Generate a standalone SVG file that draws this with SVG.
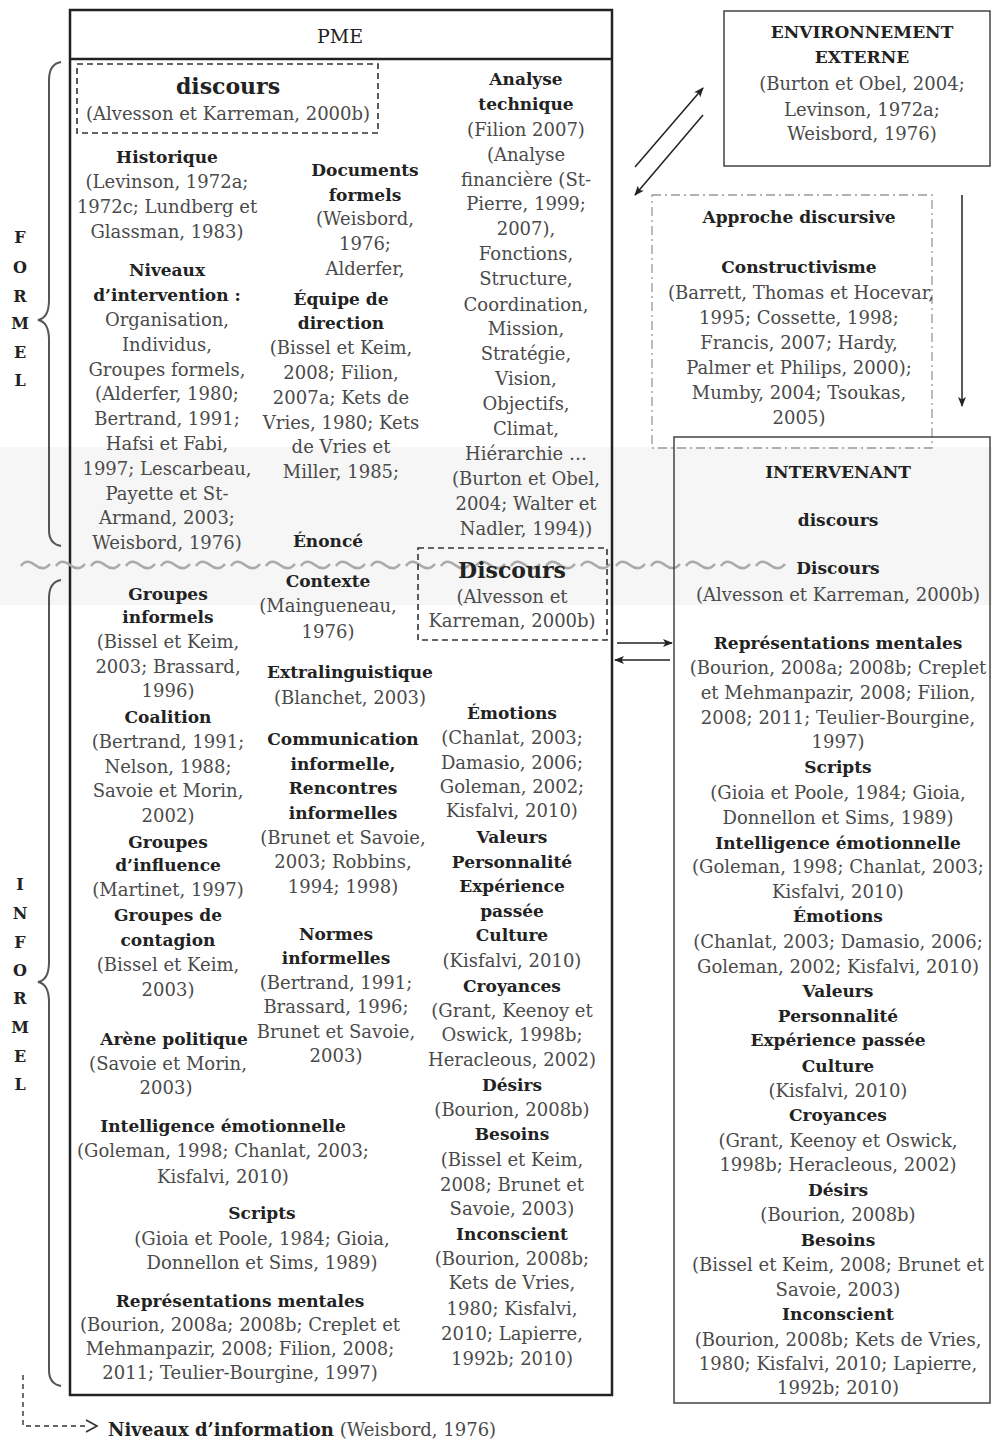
<svg xmlns="http://www.w3.org/2000/svg" width="992" height="1439" viewBox="0 0 992 1439">
  <style>
    text { font-family: "DejaVu Serif", "Liberation Serif", serif; text-anchor: middle; }
    .t { font-size: 18px; fill: #4a4a4a; }
    .h { font-size: 17px; font-weight: bold; fill: #222; }
    .big { font-size: 22px; font-weight: bold; fill: #222; }
    .side { font-size: 16px; font-weight: bold; fill: #222; }
    .frame { fill: none; stroke: #222; stroke-width: 2.5; }
    .box { fill: none; stroke: #444; stroke-width: 1.5; }
    .dash { fill: none; stroke: #333; stroke-width: 1.6; stroke-dasharray: 6 4; }
    .dashdot { fill: none; stroke: #999; stroke-width: 1.3; stroke-dasharray: 9 4 2 4; }
    .brace { fill: none; stroke: #555; stroke-width: 2; }
    .arrow { fill: none; stroke: #222; stroke-width: 1.5; }
  </style>
  <defs>
    <marker id="head" viewBox="0 0 10 8" refX="9" refY="4" markerWidth="10" markerHeight="8" markerUnits="userSpaceOnUse" orient="auto">
      <path d="M0,0 L10,4 L0,8 L2.5,4 z" fill="#222"/>
    </marker>
    <pattern id="wave" x="18" y="559" width="35" height="12" patternUnits="userSpaceOnUse">
      <path d="M3,7 C7,1 12,2 17,6 C22,10 27,11 32,5" fill="none" stroke="#aaa" stroke-width="2.6"/>
    </pattern>
  </defs>

  <!-- faint scan band behind the boundary line -->
  <rect x="0" y="447" width="992" height="158" fill="#f6f6f6"/>

  <!-- PME frame -->
  <g id="pme">
    <rect x="70" y="10" width="542" height="1385" class="frame"/>
    <line x1="70" y1="59" x2="612" y2="59" stroke="#222" stroke-width="2.5"/>
    <text x="340" y="43" style="font-size:19px; fill:#222">PME</text>
  </g>

  <!-- boundary between formal and informal -->
  <rect x="18" y="559" width="770" height="12" fill="url(#wave)"/>

  <!-- formal side of the PME -->
  <g id="pme-discours">
    <rect x="77" y="64" width="301" height="69" class="dash"/>
    <text class="big" x="228" y="94">discours</text>
    <text class="t" x="228" y="120">(Alvesson et Karreman, 2000b)</text>
  </g>

  <g id="historique">
    <text class="h" x="167" y="163">Historique</text>
    <text class="t" x="167" y="188">(Levinson, 1972a;</text>
    <text class="t" x="167" y="213">1972c; Lundberg et</text>
    <text class="t" x="167" y="238">Glassman, 1983)</text>
  </g>

  <g id="niveaux">
    <text class="h" x="167" y="276">Niveaux</text>
    <text class="h" x="167" y="301">d’intervention :</text>
    <text class="t" x="167" y="326">Organisation,</text>
    <text class="t" x="167" y="351">Individus,</text>
    <text class="t" x="167" y="376">Groupes formels,</text>
    <text class="t" x="167" y="400">(Alderfer, 1980;</text>
    <text class="t" x="167" y="425">Bertrand, 1991;</text>
    <text class="t" x="167" y="450">Hafsi et Fabi,</text>
    <text class="t" x="167" y="475">1997; Lescarbeau,</text>
    <text class="t" x="167" y="500">Payette et St-</text>
    <text class="t" x="167" y="524">Armand, 2003;</text>
    <text class="t" x="167" y="549">Weisbord, 1976)</text>
  </g>

  <g id="documents">
    <text class="h" x="365" y="176">Documents</text>
    <text class="h" x="365" y="201">formels</text>
    <text class="t" x="365" y="225">(Weisbord,</text>
    <text class="t" x="365" y="250">1976;</text>
    <text class="t" x="365" y="275">Alderfer,</text>
  </g>

  <g id="equipe">
    <text class="h" x="341" y="305">Équipe de</text>
    <text class="h" x="341" y="329">direction</text>
    <text class="t" x="341" y="354">(Bissel et Keim,</text>
    <text class="t" x="341" y="379">2008; Filion,</text>
    <text class="t" x="341" y="404">2007a; Kets de</text>
    <text class="t" x="341" y="429">Vries, 1980; Kets</text>
    <text class="t" x="341" y="453">de Vries et</text>
    <text class="t" x="341" y="478">Miller, 1985;</text>
  </g>

  <g id="enonce">
    <text class="h" x="328" y="547">Énoncé</text>
  </g>

  <g id="analyse">
    <text class="h" x="526" y="85">Analyse</text>
    <text class="h" x="526" y="110">technique</text>
    <text class="t" x="526" y="136">(Filion 2007)</text>
    <text class="t" x="526" y="161">(Analyse</text>
    <text class="t" x="526" y="186">financière (St-</text>
    <text class="t" x="526" y="210">Pierre, 1999;</text>
    <text class="t" x="526" y="235">2007),</text>
    <text class="t" x="526" y="260">Fonctions,</text>
    <text class="t" x="526" y="285">Structure,</text>
    <text class="t" x="526" y="311">Coordination,</text>
    <text class="t" x="526" y="335">Mission,</text>
    <text class="t" x="526" y="360">Stratégie,</text>
    <text class="t" x="526" y="385">Vision,</text>
    <text class="t" x="526" y="410">Objectifs,</text>
    <text class="t" x="526" y="435">Climat,</text>
    <text class="t" x="526" y="460">Hiérarchie …</text>
    <text class="t" x="526" y="485">(Burton et Obel,</text>
    <text class="t" x="526" y="510">2004; Walter et</text>
    <text class="t" x="526" y="535">Nadler, 1994))</text>
  </g>

  <!-- informal side of the PME -->
  <g id="pme-discours-informel">
    <rect x="418" y="548" width="189" height="92" class="dash"/>
    <text class="big" x="512" y="578">Discours</text>
    <text class="t" x="512" y="603">(Alvesson et</text>
    <text class="t" x="512" y="627">Karreman, 2000b)</text>
  </g>

  <g id="groupes-informels">
    <text class="h" x="168" y="600">Groupes</text>
    <text class="h" x="168" y="623">informels</text>
    <text class="t" x="168" y="648">(Bissel et Keim,</text>
    <text class="t" x="168" y="673">2003; Brassard,</text>
    <text class="t" x="168" y="697">1996)</text>
  </g>

  <g id="coalition">
    <text class="h" x="168" y="723">Coalition</text>
    <text class="t" x="168" y="748">(Bertrand, 1991;</text>
    <text class="t" x="168" y="773">Nelson, 1988;</text>
    <text class="t" x="168" y="797">Savoie et Morin,</text>
    <text class="t" x="168" y="822">2002)</text>
  </g>

  <g id="groupes-influence">
    <text class="h" x="168" y="848">Groupes</text>
    <text class="h" x="168" y="871">d’influence</text>
    <text class="t" x="168" y="896">(Martinet, 1997)</text>
  </g>

  <g id="groupes-contagion">
    <text class="h" x="168" y="921">Groupes de</text>
    <text class="h" x="168" y="946">contagion</text>
    <text class="t" x="168" y="971">(Bissel et Keim,</text>
    <text class="t" x="168" y="996">2003)</text>
  </g>

  <g id="arene">
    <text class="h" x="174" y="1045">Arène politique</text>
    <text class="t" x="168" y="1070">(Savoie et Morin,</text>
    <text class="t" x="166" y="1094">2003)</text>
  </g>

  <g id="intelligence">
    <text class="h" x="223" y="1132">Intelligence émotionnelle</text>
    <text class="t" x="223" y="1157">(Goleman, 1998; Chanlat, 2003;</text>
    <text class="t" x="223" y="1183">Kisfalvi, 2010)</text>
  </g>

  <g id="scripts">
    <text class="h" x="262" y="1219">Scripts</text>
    <text class="t" x="262" y="1245">(Gioia et Poole, 1984; Gioia,</text>
    <text class="t" x="262" y="1269">Donnellon et Sims, 1989)</text>
  </g>

  <g id="representations">
    <text class="h" x="240" y="1307">Représentations mentales</text>
    <text class="t" x="240" y="1331">(Bourion, 2008a; 2008b; Creplet et</text>
    <text class="t" x="240" y="1355">Mehmanpazir, 2008; Filion, 2008;</text>
    <text class="t" x="240" y="1379">2011; Teulier-Bourgine, 1997)</text>
  </g>

  <g id="contexte">
    <text class="h" x="328" y="587">Contexte</text>
    <text class="t" x="328" y="612">(Maingueneau,</text>
    <text class="t" x="328" y="638">1976)</text>
  </g>

  <g id="extralinguistique">
    <text class="h" x="350" y="678">Extralinguistique</text>
    <text class="t" x="350" y="704">(Blanchet, 2003)</text>
  </g>

  <g id="communication">
    <text class="h" x="343" y="745">Communication</text>
    <text class="h" x="343" y="770">informelle,</text>
    <text class="h" x="343" y="794">Rencontres</text>
    <text class="h" x="343" y="819">informelles</text>
    <text class="t" x="343" y="844">(Brunet et Savoie,</text>
    <text class="t" x="343" y="868">2003; Robbins,</text>
    <text class="t" x="343" y="893">1994; 1998)</text>
  </g>

  <g id="normes">
    <text class="h" x="336" y="940">Normes</text>
    <text class="h" x="336" y="964">informelles</text>
    <text class="t" x="336" y="989">(Bertrand, 1991;</text>
    <text class="t" x="336" y="1013">Brassard, 1996;</text>
    <text class="t" x="336" y="1038">Brunet et Savoie,</text>
    <text class="t" x="336" y="1062">2003)</text>
  </g>

  <g id="individu-pme">
    <text class="h" x="512" y="719">Émotions</text>
    <text class="t" x="512" y="744">(Chanlat, 2003;</text>
    <text class="t" x="512" y="769">Damasio, 2006;</text>
    <text class="t" x="512" y="793">Goleman, 2002;</text>
    <text class="t" x="512" y="817">Kisfalvi, 2010)</text>
    <text class="h" x="512" y="843">Valeurs</text>
    <text class="h" x="512" y="868">Personnalité</text>
    <text class="h" x="512" y="892">Expérience</text>
    <text class="h" x="512" y="917">passée</text>
    <text class="h" x="512" y="941">Culture</text>
    <text class="t" x="512" y="967">(Kisfalvi, 2010)</text>
    <text class="h" x="512" y="992">Croyances</text>
    <text class="t" x="512" y="1017">(Grant, Keenoy et</text>
    <text class="t" x="512" y="1041">Oswick, 1998b;</text>
    <text class="t" x="512" y="1066">Heracleous, 2002)</text>
    <text class="h" x="512" y="1091">Désirs</text>
    <text class="t" x="512" y="1116">(Bourion, 2008b)</text>
    <text class="h" x="512" y="1140">Besoins</text>
    <text class="t" x="512" y="1166">(Bissel et Keim,</text>
    <text class="t" x="512" y="1191">2008; Brunet et</text>
    <text class="t" x="512" y="1215">Savoie, 2003)</text>
    <text class="h" x="512" y="1240">Inconscient</text>
    <text class="t" x="512" y="1265">(Bourion, 2008b;</text>
    <text class="t" x="512" y="1289">Kets de Vries,</text>
    <text class="t" x="512" y="1315">1980; Kisfalvi,</text>
    <text class="t" x="512" y="1340">2010; Lapierre,</text>
    <text class="t" x="512" y="1365">1992b; 2010)</text>
  </g>

  <!-- side labels with braces -->
  <g id="formel">
    <path class="brace" d="M61,62 Q49,64 49,80 L49,300 Q49,318 38,320 Q49,322 49,340 L49,530 Q49,544 61,546"/>
    <text class="side" x="20" y="243">F</text>
    <text class="side" x="20" y="273">O</text>
    <text class="side" x="20" y="302">R</text>
    <text class="side" x="20" y="329">M</text>
    <text class="side" x="20" y="358">E</text>
    <text class="side" x="20" y="386">L</text>
  </g>

  <g id="informel">
    <path class="brace" d="M61,580 Q49,582 49,598 L49,962 Q49,980 38,982 Q49,984 49,1002 L49,1370 Q49,1384 61,1386"/>
    <text class="side" x="20" y="890">I</text>
    <text class="side" x="20" y="919">N</text>
    <text class="side" x="20" y="948">F</text>
    <text class="side" x="20" y="976">O</text>
    <text class="side" x="20" y="1004">R</text>
    <text class="side" x="20" y="1033">M</text>
    <text class="side" x="20" y="1062">E</text>
    <text class="side" x="20" y="1090">L</text>
  </g>

  <!-- external environment -->
  <g id="environnement">
    <rect x="724" y="11" width="266" height="155" class="box"/>
    <text class="h" x="862" y="38">ENVIRONNEMENT</text>
    <text class="h" x="862" y="63">EXTERNE</text>
    <text class="t" x="862" y="90">(Burton et Obel, 2004;</text>
    <text class="t" x="862" y="116">Levinson, 1972a;</text>
    <text class="t" x="862" y="140">Weisbord, 1976)</text>
  </g>

  <!-- discursive approach -->
  <g id="approche">
    <rect x="652" y="195" width="280" height="253" class="dashdot"/>
    <text class="h" x="799" y="223">Approche discursive</text>
    <text class="h" x="799" y="273">Constructivisme</text>
    <text class="t" x="801" y="299">(Barrett, Thomas et Hocevar,</text>
    <text class="t" x="799" y="324">1995; Cossette, 1998;</text>
    <text class="t" x="799" y="349">Francis, 2007; Hardy,</text>
    <text class="t" x="799" y="374">Palmer et Philips, 2000);</text>
    <text class="t" x="799" y="399">Mumby, 2004; Tsoukas,</text>
    <text class="t" x="799" y="424">2005)</text>
  </g>

  <!-- consultant -->
  <g id="intervenant">
    <rect x="674" y="437" width="316" height="966" class="box"/>
    <text class="h" x="838" y="478">INTERVENANT</text>
    <text class="h" x="838" y="526">discours</text>
    <text class="h" x="838" y="574">Discours</text>
    <text class="t" x="838" y="601">(Alvesson et Karreman, 2000b)</text>
    <text class="h" x="838" y="649">Représentations mentales</text>
    <text class="t" x="838" y="674">(Bourion, 2008a; 2008b; Creplet</text>
    <text class="t" x="838" y="699">et Mehmanpazir, 2008; Filion,</text>
    <text class="t" x="838" y="724">2008; 2011; Teulier-Bourgine,</text>
    <text class="t" x="838" y="748">1997)</text>
    <text class="h" x="838" y="773">Scripts</text>
    <text class="t" x="838" y="799">(Gioia et Poole, 1984; Gioia,</text>
    <text class="t" x="838" y="824">Donnellon et Sims, 1989)</text>
    <text class="h" x="838" y="849">Intelligence émotionnelle</text>
    <text class="t" x="838" y="873">(Goleman, 1998; Chanlat, 2003;</text>
    <text class="t" x="838" y="898">Kisfalvi, 2010)</text>
    <text class="h" x="838" y="922">Émotions</text>
    <text class="t" x="838" y="948">(Chanlat, 2003; Damasio, 2006;</text>
    <text class="t" x="838" y="973">Goleman, 2002; Kisfalvi, 2010)</text>
    <text class="h" x="838" y="997">Valeurs</text>
    <text class="h" x="838" y="1022">Personnalité</text>
    <text class="h" x="838" y="1046">Expérience passée</text>
    <text class="h" x="838" y="1072">Culture</text>
    <text class="t" x="838" y="1097">(Kisfalvi, 2010)</text>
    <text class="h" x="838" y="1121">Croyances</text>
    <text class="t" x="838" y="1147">(Grant, Keenoy et Oswick,</text>
    <text class="t" x="838" y="1171">1998b; Heracleous, 2002)</text>
    <text class="h" x="838" y="1196">Désirs</text>
    <text class="t" x="838" y="1221">(Bourion, 2008b)</text>
    <text class="h" x="838" y="1246">Besoins</text>
    <text class="t" x="838" y="1271">(Bissel et Keim, 2008; Brunet et</text>
    <text class="t" x="838" y="1296">Savoie, 2003)</text>
    <text class="h" x="838" y="1320">Inconscient</text>
    <text class="t" x="838" y="1346">(Bourion, 2008b; Kets de Vries,</text>
    <text class="t" x="838" y="1370">1980; Kisfalvi, 2010; Lapierre,</text>
    <text class="t" x="838" y="1394">1992b; 2010)</text>
  </g>

  <!-- connectors -->
  <g id="connectors">
    <line class="arrow" x1="635" y1="167" x2="703" y2="88" marker-end="url(#head)"/>
    <line class="arrow" x1="703" y1="115" x2="635" y2="195" marker-end="url(#head)"/>
    <line class="arrow" x1="962" y1="195" x2="962" y2="406" marker-end="url(#head)"/>
    <line class="arrow" x1="617" y1="643" x2="672" y2="643" marker-end="url(#head)"/>
    <line class="arrow" x1="670" y1="660" x2="615" y2="660" marker-end="url(#head)"/>
    <path d="M23,1375 L23,1426 L86,1426" fill="none" stroke="#333" stroke-width="1.4" stroke-dasharray="5 4"/>
    <polyline points="86,1420 97,1426 86,1432" fill="none" stroke="#333" stroke-width="1.6"/>
  </g>

  <g id="niveaux-information">
    <text x="108" y="1436" style="text-anchor:start; font-size:18px"><tspan font-weight="bold" fill="#222">Niveaux d’information</tspan><tspan fill="#4a4a4a"> (Weisbord, 1976)</tspan></text>
  </g>
</svg>
